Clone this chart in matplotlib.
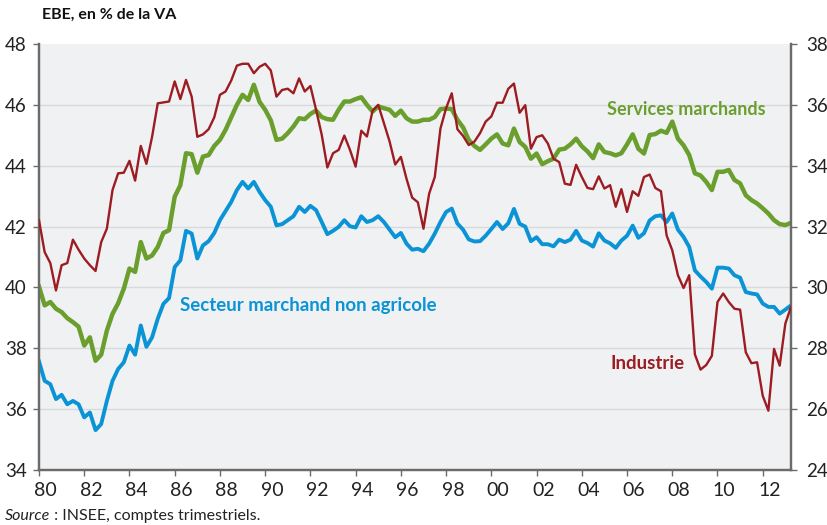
import numpy as np
import matplotlib
matplotlib.use("Agg")
import matplotlib.pyplot as plt
from matplotlib import font_manager

# ---------------- data (quarterly, 1980Q1 .. 2013Q2) ----------------
start_year = 1980.0
marchand_non_agricole = [
    37.57, 36.93, 36.82, 36.33, 36.47, 36.16, 36.27, 36.16, 35.73, 35.89, 35.31, 35.51, 36.27, 36.93, 37.32, 37.54, 38.09, 37.79, 38.75, 38.05,
    38.36, 38.97, 39.46, 39.65, 40.67, 40.89, 41.86, 41.77, 40.95, 41.38, 41.52, 41.79, 42.21, 42.51, 42.81, 43.20, 43.47, 43.25, 43.47, 43.14,
    42.87, 42.65, 42.04, 42.08, 42.21, 42.34, 42.65, 42.48, 42.68, 42.54, 42.15, 41.75, 41.86, 41.99, 42.21, 42.01, 41.97, 42.34, 42.15, 42.21,
    42.34, 42.15, 41.90, 41.65, 41.79, 41.44, 41.24, 41.27, 41.19, 41.44, 41.77, 42.15, 42.48, 42.59, 42.10, 41.90, 41.58, 41.51, 41.52, 41.70,
    41.92, 42.15, 41.92, 42.11, 42.58, 42.09, 42.00, 41.52, 41.65, 41.42, 41.42, 41.35, 41.57, 41.49, 41.57, 41.86, 41.54, 41.46, 41.34, 41.78,
    41.54, 41.45, 41.30, 41.54, 41.70, 42.03, 41.63, 41.78, 42.20, 42.34, 42.37, 42.15, 42.43, 41.90, 41.66, 41.33, 40.56, 40.36, 40.18, 39.96,
    40.65, 40.65, 40.62, 40.40, 40.32, 39.85, 39.80, 39.77, 39.47, 39.36, 39.36, 39.14, 39.27, 39.41,
]
services_marchands = [
    40.03, 39.41, 39.52, 39.30, 39.19, 38.99, 38.86, 38.71, 38.09, 38.36, 37.59, 37.79, 38.58, 39.13, 39.48, 39.96, 40.62, 40.51, 41.49, 40.95,
    41.05, 41.33, 41.79, 41.88, 42.98, 43.36, 44.41, 44.38, 43.77, 44.30, 44.35, 44.65, 44.85, 45.18, 45.59, 46.00, 46.33, 46.16, 46.66, 46.10,
    45.84, 45.49, 44.85, 44.89, 45.07, 45.29, 45.56, 45.53, 45.70, 45.81, 45.60, 45.53, 45.51, 45.84, 46.11, 46.11, 46.19, 46.25, 46.00, 45.78,
    45.95, 45.89, 45.84, 45.64, 45.81, 45.56, 45.45, 45.45, 45.51, 45.51, 45.60, 45.86, 45.88, 45.86, 45.51, 45.26, 44.85, 44.65, 44.52, 44.70,
    44.89, 45.03, 44.73, 44.67, 45.22, 44.78, 44.62, 44.23, 44.40, 44.05, 44.15, 44.23, 44.53, 44.56, 44.70, 44.89, 44.64, 44.47, 44.25, 44.70,
    44.45, 44.41, 44.34, 44.41, 44.70, 45.03, 44.56, 44.40, 45.01, 45.04, 45.15, 45.08, 45.45, 44.89, 44.67, 44.35, 43.75, 43.68, 43.47, 43.20,
    43.80, 43.80, 43.86, 43.53, 43.42, 43.03, 42.87, 42.76, 42.60, 42.43, 42.21, 42.08, 42.05, 42.12,
]
industrie = [  # right axis
    32.21, 31.16, 30.80, 29.90, 30.73, 30.80, 31.57, 31.24, 30.95, 30.73, 30.54, 31.49, 31.93, 33.20, 33.75, 33.77, 34.16, 33.51, 34.65, 34.06,
    34.95, 36.05, 36.08, 36.11, 36.77, 36.19, 36.82, 36.27, 34.95, 35.03, 35.20, 35.59, 36.33, 36.44, 36.80, 37.29, 37.35, 37.35, 37.04, 37.25,
    37.35, 37.13, 36.27, 36.49, 36.53, 36.38, 36.87, 36.44, 36.62, 35.84, 35.02, 33.94, 34.41, 34.52, 34.99, 34.52, 33.97, 35.15, 34.96, 35.81,
    36.00, 35.40, 34.80, 34.04, 34.29, 33.57, 32.95, 32.80, 31.93, 33.08, 33.63, 35.22, 35.89, 36.38, 35.20, 34.98, 34.68, 34.79, 35.07, 35.45,
    35.62, 36.07, 36.07, 36.53, 36.70, 35.74, 35.99, 34.56, 34.94, 35.00, 34.73, 34.23, 34.12, 33.41, 33.37, 34.03, 33.63, 33.27, 33.23, 33.65,
    33.25, 33.36, 32.65, 33.23, 32.48, 33.16, 33.01, 33.63, 33.71, 33.27, 33.16, 31.71, 31.22, 30.40, 29.98, 30.40, 27.80, 27.30, 27.45, 27.75,
    29.52, 29.80, 29.52, 29.30, 29.27, 27.87, 27.51, 27.54, 26.44, 25.95, 27.98, 27.43, 28.81, 29.36,
]
year_labels = ["80", "82", "84", "86", "88", "90", "92", "94", "96", "98",
               "00", "02", "04", "06", "08", "10", "12"]
left_ticks = [34, 36, 38, 40, 42, 44, 46, 48]
right_ticks = [24, 26, 28, 30, 32, 34, 36, 38]

# ---------------- fonts ----------------
names = {f.name for f in font_manager.fontManager.ttflist}
num_font = "Liberation Sans Narrow" if "Liberation Sans Narrow" in names else "Lato"
lab_font = "Lato" if "Lato" in names else "DejaVu Sans"

BLUE = "#0A93D5"
GREEN = "#6A9F2E"
RED = "#9C1C22"
BG = "#F0F1F3"
GRID = "#D8D9DC"
AX = "#6B6B6B"

n = len(services_marchands)
x = start_year + np.arange(n) / 4.0

fig = plt.figure(figsize=(8.28, 5.25), dpi=100)
ax = fig.add_axes([39 / 828, 55 / 525, 752 / 828, 426 / 525])
ax.set_facecolor(BG)
ax.set_xlim(1980.0, 2013.25)
ax.set_ylim(34, 48)

for v in left_ticks[1:-1]:
    ax.axhline(v, color=GRID, lw=1.0, zorder=1)

ax.plot(x, marchand_non_agricole, color=BLUE, lw=2.8, zorder=3, solid_joinstyle="round")
ax.plot(x, services_marchands, color=GREEN, lw=3.2, zorder=3, solid_joinstyle="round")

ax2 = ax.twinx()
ax2.set_ylim(24, 38)
ax2.plot(x, industrie, color=RED, lw=1.7, zorder=4, solid_joinstyle="round")

for a in (ax, ax2):
    a.spines["top"].set_visible(False)
    for s in ("left", "right", "bottom"):
        a.spines[s].set_color(AX)
        a.spines[s].set_linewidth(1.6)

ax.set_yticks(left_ticks)
ax.set_yticklabels([str(v) for v in left_ticks])
ax2.set_yticks(right_ticks)
ax2.set_yticklabels([str(v) for v in right_ticks])

even_years = np.arange(1980, 2013, 2)
ax.set_xticks(even_years)
ax.set_xticklabels([""] * len(even_years))
ax.set_xticks(even_years + 0.3, minor=True)
ax.set_xticklabels(year_labels, minor=True)

ax.tick_params(axis="x", which="major", direction="out", length=4, width=1.0, color=AX)
ax.tick_params(axis="x", which="minor", length=0, pad=9, labelsize=14, labelcolor="#222222")
ax.tick_params(axis="y", direction="out", length=4, width=1.0, color=AX, pad=5,
               labelsize=13.5, labelcolor="#222222")
ax2.tick_params(axis="y", direction="out", length=4, width=1.0, color=AX, pad=7,
                labelsize=13.5, labelcolor="#222222")
for lab in ax.get_xticklabels(minor=True) + ax.get_yticklabels() + ax2.get_yticklabels():
    lab.set_family(num_font)

fig.text(42 / 828, 1 - 15 / 525, "EBE, en % de la VA", family=lab_font, fontweight="bold",
         fontsize=11.5, color="#111111", va="center", ha="left")

ax.text(1980 + (607 - 38.8) / 22.62, 48 - (110 - 44.3) / 30.35, "Services marchands",
        color=GREEN, family=lab_font, fontweight="bold", fontsize=13, va="center", ha="left")
ax.text(1980 + (180 - 38.8) / 22.62, 48 - (305 - 44.3) / 30.35, "Secteur marchand non agricole",
        color=BLUE, family=lab_font, fontweight="bold", fontsize=13.4, va="center", ha="left")
ax.text(1980 + (610 - 38.8) / 22.62, 48 - (363 - 44.3) / 30.35, "Industrie",
        color=RED, family=lab_font, fontweight="bold", fontsize=13.4, va="center", ha="left")

t1 = fig.text(5 / 828, 1 - 516 / 525, "Source", family=num_font, style="italic",
              fontsize=11.5, color="#222222", va="center", ha="left")
fig.canvas.draw()
bb = t1.get_window_extent()
fig.text(bb.x1 / 828, 1 - 516 / 525, " : INSEE, comptes trimestriels.", family=num_font,
         fontsize=11.5, color="#222222", va="center", ha="left")

fig.savefig("out.png", dpi=100)
